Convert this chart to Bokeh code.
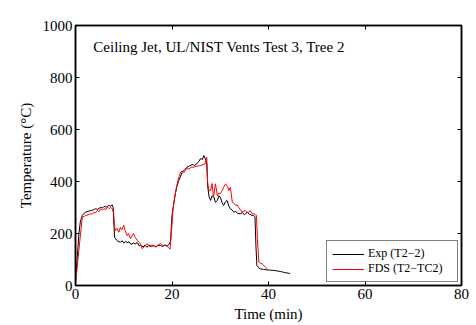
from bokeh.plotting import figure
from bokeh.models import LinearAxis, Label, Legend, LegendItem, FixedTicker
from bokeh.embed import file_html
from bokeh.resources import INLINE

exp_t = [0, 0.3, 0.7, 1.0, 1.4, 1.8, 2.1, 2.6, 3.1, 3.6, 4.1, 4.6, 5.2, 5.6, 5.9, 6.4, 6.9, 7.2, 7.6, 7.8,
         8.1, 8.6, 9.0, 9.3, 9.7, 10.0, 10.4, 10.7, 11.1, 11.5, 12.0, 12.4, 12.8, 13.2, 13.5, 14.0, 14.4,
         14.8, 15.2, 15.7, 16.1, 16.6, 17.1, 17.6, 18.0, 18.5, 19.0, 19.4, 19.7, 20.0, 20.4, 20.7, 21.0,
         21.4, 21.8, 22.1, 22.6, 23.1, 23.6, 24.2, 24.7, 25.2, 25.6, 25.9, 26.3, 26.6, 26.9, 27.2, 27.4,
         27.7, 28.0, 28.3, 28.7, 29.0, 29.4, 29.7, 30.0, 30.4, 30.7, 31.0, 31.4, 31.8, 32.1, 32.5, 32.8,
         33.2, 33.6, 34.2, 34.6, 35.0, 35.6, 36.0, 36.5, 36.9, 37.2, 37.4, 37.6, 38.0, 38.3, 39.0, 39.7,
         40.4, 41.1, 41.8, 42.5, 43.3, 44.2, 44.5]
exp_T = [20, 90, 199, 245, 269, 278, 282, 285, 288, 290, 295, 293, 301, 298, 304, 302, 308, 305, 310, 300,
         185, 173, 168, 167, 172, 163, 170, 165, 168, 158, 163, 160, 165, 152, 156, 148, 155,
         147, 156, 150, 153, 149, 155, 154, 150, 156, 152, 158, 170, 270, 320, 354, 380,
         404, 420, 436, 445, 455, 460, 465, 462, 469, 478, 488, 485, 500, 488, 470, 380,
         340, 327, 345, 340, 320, 327, 345, 340, 318, 308, 320, 327, 305, 295, 290, 282,
         285, 278, 276, 280, 272, 282, 275, 270, 269, 265, 150, 77, 68, 64, 62, 60,
         59, 58, 56, 54, 50, 47, 46]

fds_t = [0, 0.5, 1.0, 1.4, 1.8, 2.1, 2.6, 3.1, 3.5, 3.8, 4.2, 4.5, 4.9, 5.2, 5.6, 5.9, 6.3, 6.6, 7.0, 7.3,
         7.6, 7.9, 8.1, 8.3, 8.6, 9.0, 9.3, 9.6, 10.0, 10.3, 10.7, 11.0, 11.4, 11.7, 12.0, 12.4, 12.8,
         13.3, 13.8, 14.3, 14.8, 15.3, 15.7, 16.2, 16.7, 17.2, 17.6, 18.1, 18.6, 19.0, 19.3, 19.6, 19.9,
         20.2, 20.6, 21.0, 21.4, 21.8, 22.1, 22.5, 23.0, 23.5, 24.0, 24.5, 25.0, 25.5, 25.9, 26.4, 26.9,
         27.2, 27.4, 27.7, 28.0, 28.3, 28.6, 29.0, 29.4, 29.7, 30.0, 30.4, 30.7, 31.1, 31.5, 31.8, 32.1,
         32.5, 32.9, 33.2, 33.5, 33.8, 34.2, 34.5, 34.9, 35.2, 35.6, 35.9, 36.2, 36.6, 37.0, 37.3, 37.5,
         37.7, 38.0, 38.4, 38.7, 39.0, 39.4, 39.7]
fds_T = [5, 100, 190, 263, 266, 269, 272, 276, 275, 282, 280, 288, 285, 295, 290, 296, 292, 301, 296, 301,
         295, 280, 224, 211, 219, 205, 224, 215, 232, 210, 192, 200, 180, 190, 200, 185, 173,
         165, 142, 150, 161, 150, 155, 154, 148, 156, 161, 152, 155, 150, 146, 140, 210,
         290, 345, 385, 415, 436, 440, 435, 450, 448, 455, 455, 458, 460, 461, 465, 469,
         493, 392, 365, 365, 392, 340, 391, 345, 355, 353, 365, 378, 391, 380, 365, 378,
         320, 315, 308, 310, 301, 290, 282, 286, 288, 280, 282, 288, 276, 276, 272, 270,
         180, 90, 85, 83, 78, 70, 64]

x_ticks = [0, 20, 40, 60, 80]
y_ticks = [0, 200, 400, 600, 800, 1000]

FONT = "Liberation Serif"

p = figure(width=470, height=325, x_range=(0, 80), y_range=(0, 1000),
           output_backend="svg", toolbar_location=None, x_axis_location=None, y_axis_location=None,
           min_border_left=75, min_border_right=9, min_border_top=25, min_border_bottom=40)
p.grid.visible = False
p.outline_line_color = "black"
p.outline_line_width = 1.5
p.background_fill_color = "white"
p.border_fill_color = "white"


def make_axis(ticks, label=None, show_labels=True):
    ax = LinearAxis(ticker=FixedTicker(ticks=ticks))
    ax.major_tick_in = 4
    ax.major_tick_out = 0
    ax.minor_tick_line_color = None
    ax.axis_line_color = "black"
    ax.axis_line_width = 1.5
    ax.major_tick_line_color = "black"
    ax.major_label_text_font = FONT
    ax.major_label_text_font_size = "15px"
    ax.major_label_text_color = "#000000"
    ax.major_label_standoff = 3
    if not show_labels:
        ax.major_label_text_alpha = 0
        ax.major_label_text_font_size = "1px"
    if label:
        ax.axis_label = label
        ax.axis_label_text_font = FONT
        ax.axis_label_text_font_size = "15px"
        ax.axis_label_text_font_style = "normal"
        ax.axis_label_text_color = "#000000"
    return ax


xb = make_axis(x_ticks, "Time (min)")
xb.axis_label_standoff = 4
yl = make_axis(y_ticks, "Temperature (\u00b0C)")
yl.axis_label_standoff = 6
xt = make_axis(x_ticks, show_labels=False)
yr = make_axis(y_ticks, show_labels=False)
p.add_layout(xb, "below")
p.add_layout(yl, "left")
p.add_layout(xt, "above")
p.add_layout(yr, "right")

r_exp = p.line(exp_t, exp_T, line_color="black", line_width=1)
r_fds = p.line(fds_t, fds_T, line_color="red", line_width=1)

legend = Legend(items=[LegendItem(label="Exp (T2\u22122)", renderers=[r_exp]),
                       LegendItem(label="FDS (T2\u2212TC2)", renderers=[r_fds])],
                location="bottom_right")
legend.label_text_font = FONT
legend.label_text_font_size = "12px"
legend.label_text_color = "#000000"
legend.border_line_color = "black"
legend.border_line_width = 1
legend.background_fill_alpha = 1
legend.glyph_width = 32
legend.glyph_height = 10
legend.label_height = 10
legend.label_width = 84
legend.spacing = 0
legend.padding = 5
legend.margin = 3
legend.label_standoff = 4
p.add_layout(legend)

p.add_layout(Label(x=3.7, y=885, text="Ceiling Jet, UL/NIST Vents Test 3, Tree 2",
                   text_font=FONT, text_font_size="15px", text_color="black",
                   text_baseline="bottom"))
p.add_layout(Label(x=74.2, y=1038, text="SVN 22054", text_font=FONT, text_font_size="9px",
                   text_color="black", text_align="right", text_baseline="bottom"))

open("out.html", "w").write(file_html(p, INLINE))
